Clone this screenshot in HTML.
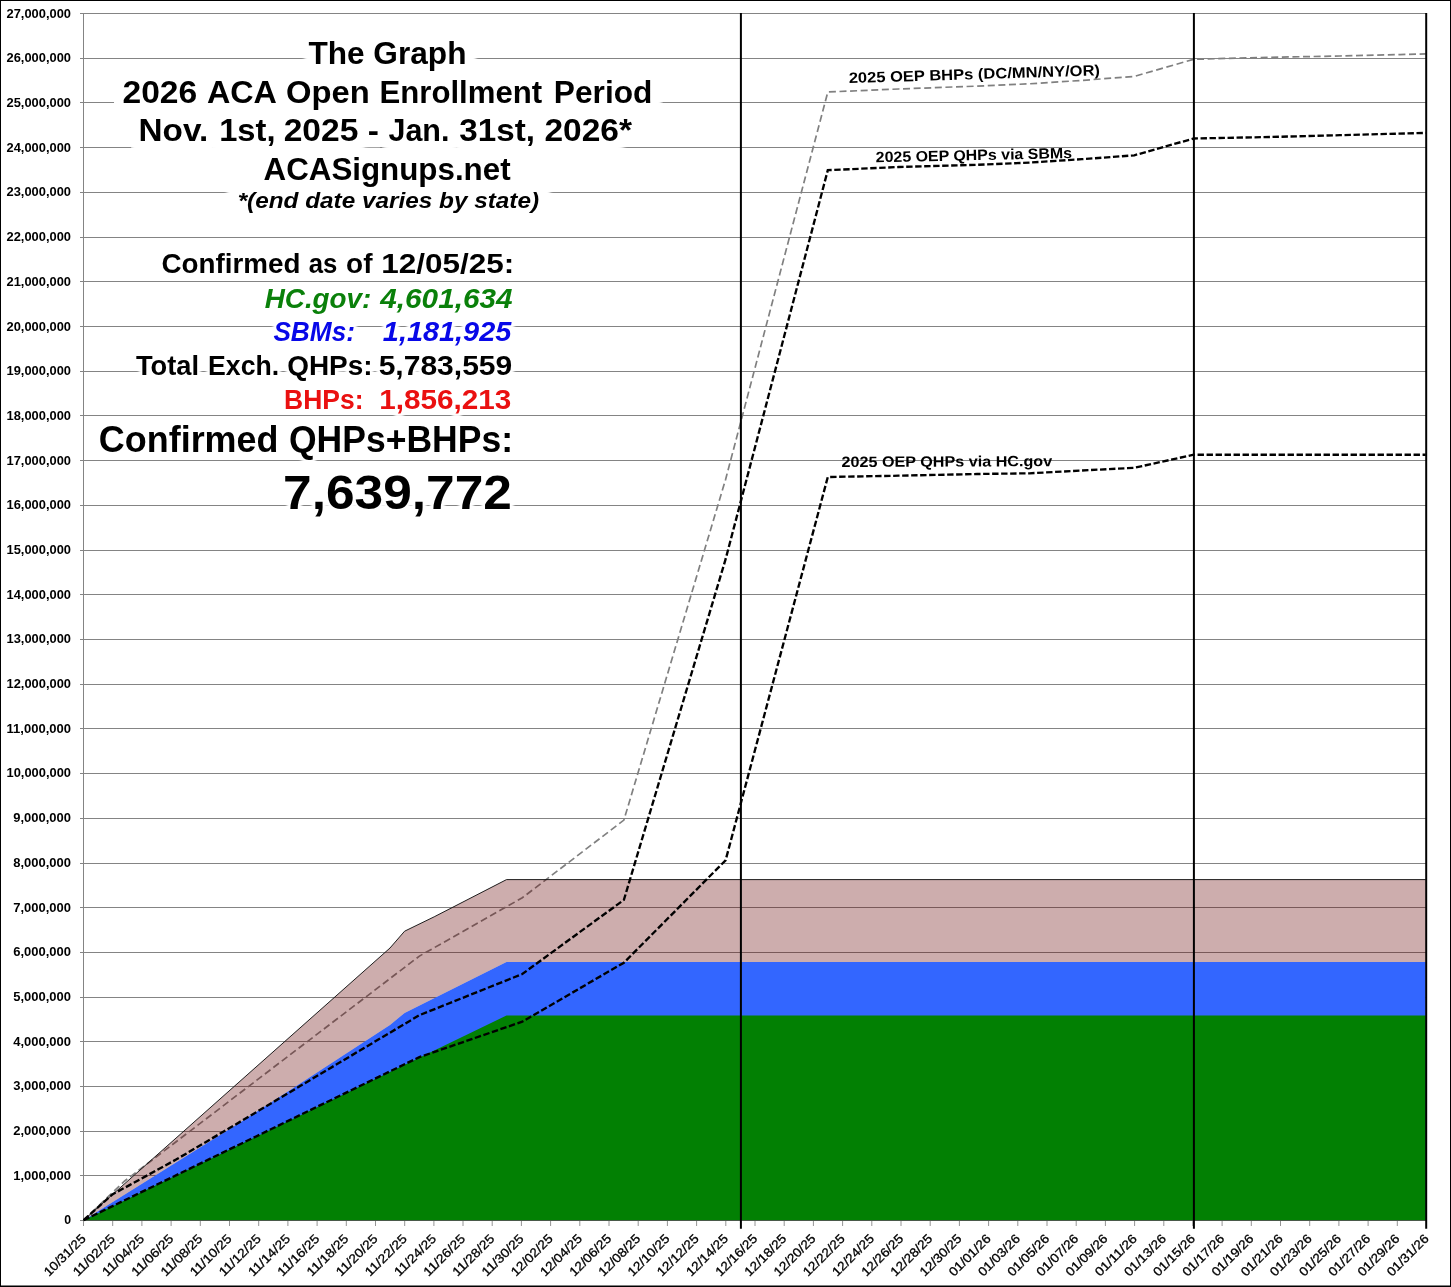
<!DOCTYPE html>
<html><head><meta charset="utf-8"><title>The Graph</title>
<style>
html,body{margin:0;padding:0;background:#fff;}
body{width:1451px;height:1287px;overflow:hidden;font-family:"Liberation Sans",sans-serif;}
svg{display:block;will-change:transform;font-family:"Liberation Sans",sans-serif;}
.yl{font-weight:bold;font-size:12.3px;fill:#000;text-anchor:end;}
.xl{font-size:12.6px;fill:#000;text-anchor:end;stroke:#000;stroke-width:0.3px;}
.t{font-weight:bold;}
.halo{stroke:#fff;stroke-linejoin:round;stroke-linecap:round;fill:#fff;}
</style></head><body>
<svg width="1451" height="1287" viewBox="0 0 1451 1287">
<defs><filter id="bl" x="-10%" y="-80%" width="120%" height="260%"><feGaussianBlur stdDeviation="1.6"/></filter>
<filter id="bs" x="-10%" y="-40%" width="120%" height="180%"><feGaussianBlur stdDeviation="0.9"/></filter></defs>
<rect x="0" y="0" width="1451" height="1287" fill="#fff"/>

<g stroke="#848484" stroke-width="1" shape-rendering="crispEdges">
<line x1="79.5" y1="1220.5" x2="1426" y2="1220.5"/>
<line x1="79.5" y1="1175.5" x2="1426" y2="1175.5"/>
<line x1="79.5" y1="1131.5" x2="1426" y2="1131.5"/>
<line x1="79.5" y1="1086.5" x2="1426" y2="1086.5"/>
<line x1="79.5" y1="1041.5" x2="1426" y2="1041.5"/>
<line x1="79.5" y1="997.5" x2="1426" y2="997.5"/>
<line x1="79.5" y1="952.5" x2="1426" y2="952.5"/>
<line x1="79.5" y1="907.5" x2="1426" y2="907.5"/>
<line x1="79.5" y1="863.5" x2="1426" y2="863.5"/>
<line x1="79.5" y1="818.5" x2="1426" y2="818.5"/>
<line x1="79.5" y1="773.5" x2="1426" y2="773.5"/>
<line x1="79.5" y1="728.5" x2="1426" y2="728.5"/>
<line x1="79.5" y1="684.5" x2="1426" y2="684.5"/>
<line x1="79.5" y1="639.5" x2="1426" y2="639.5"/>
<line x1="79.5" y1="594.5" x2="1426" y2="594.5"/>
<line x1="79.5" y1="550.5" x2="1426" y2="550.5"/>
<line x1="79.5" y1="505.5" x2="1426" y2="505.5"/>
<line x1="79.5" y1="460.5" x2="1426" y2="460.5"/>
<line x1="79.5" y1="415.5" x2="1426" y2="415.5"/>
<line x1="79.5" y1="371.5" x2="1426" y2="371.5"/>
<line x1="79.5" y1="326.5" x2="1426" y2="326.5"/>
<line x1="79.5" y1="281.5" x2="1426" y2="281.5"/>
<line x1="79.5" y1="237.5" x2="1426" y2="237.5"/>
<line x1="79.5" y1="192.5" x2="1426" y2="192.5"/>
<line x1="79.5" y1="147.5" x2="1426" y2="147.5"/>
<line x1="79.5" y1="102.5" x2="1426" y2="102.5"/>
<line x1="79.5" y1="58.5" x2="1426" y2="58.5"/>
<line x1="79.5" y1="13.5" x2="1426" y2="13.5"/>
<line x1="83.5" y1="13" x2="83.5" y2="1220.5"/>
</g>
<g stroke="#949494" stroke-width="1">
<line x1="83.5" y1="1220.5" x2="83.5" y2="1226"/>
<line x1="112.7" y1="1220.5" x2="112.7" y2="1226"/>
<line x1="141.9" y1="1220.5" x2="141.9" y2="1226"/>
<line x1="171.1" y1="1220.5" x2="171.1" y2="1226"/>
<line x1="200.3" y1="1220.5" x2="200.3" y2="1226"/>
<line x1="229.5" y1="1220.5" x2="229.5" y2="1226"/>
<line x1="258.7" y1="1220.5" x2="258.7" y2="1226"/>
<line x1="287.9" y1="1220.5" x2="287.9" y2="1226"/>
<line x1="317.1" y1="1220.5" x2="317.1" y2="1226"/>
<line x1="346.3" y1="1220.5" x2="346.3" y2="1226"/>
<line x1="375.5" y1="1220.5" x2="375.5" y2="1226"/>
<line x1="404.7" y1="1220.5" x2="404.7" y2="1226"/>
<line x1="433.9" y1="1220.5" x2="433.9" y2="1226"/>
<line x1="463.0" y1="1220.5" x2="463.0" y2="1226"/>
<line x1="492.2" y1="1220.5" x2="492.2" y2="1226"/>
<line x1="521.4" y1="1220.5" x2="521.4" y2="1226"/>
<line x1="550.6" y1="1220.5" x2="550.6" y2="1226"/>
<line x1="579.8" y1="1220.5" x2="579.8" y2="1226"/>
<line x1="609.0" y1="1220.5" x2="609.0" y2="1226"/>
<line x1="638.2" y1="1220.5" x2="638.2" y2="1226"/>
<line x1="667.4" y1="1220.5" x2="667.4" y2="1226"/>
<line x1="696.6" y1="1220.5" x2="696.6" y2="1226"/>
<line x1="725.8" y1="1220.5" x2="725.8" y2="1226"/>
<line x1="755.0" y1="1220.5" x2="755.0" y2="1226"/>
<line x1="784.2" y1="1220.5" x2="784.2" y2="1226"/>
<line x1="813.4" y1="1220.5" x2="813.4" y2="1226"/>
<line x1="842.6" y1="1220.5" x2="842.6" y2="1226"/>
<line x1="871.8" y1="1220.5" x2="871.8" y2="1226"/>
<line x1="901.0" y1="1220.5" x2="901.0" y2="1226"/>
<line x1="930.2" y1="1220.5" x2="930.2" y2="1226"/>
<line x1="959.4" y1="1220.5" x2="959.4" y2="1226"/>
<line x1="988.6" y1="1220.5" x2="988.6" y2="1226"/>
<line x1="1017.8" y1="1220.5" x2="1017.8" y2="1226"/>
<line x1="1047.0" y1="1220.5" x2="1047.0" y2="1226"/>
<line x1="1076.2" y1="1220.5" x2="1076.2" y2="1226"/>
<line x1="1105.4" y1="1220.5" x2="1105.4" y2="1226"/>
<line x1="1134.6" y1="1220.5" x2="1134.6" y2="1226"/>
<line x1="1163.8" y1="1220.5" x2="1163.8" y2="1226"/>
<line x1="1192.9" y1="1220.5" x2="1192.9" y2="1226"/>
<line x1="1222.1" y1="1220.5" x2="1222.1" y2="1226"/>
<line x1="1251.3" y1="1220.5" x2="1251.3" y2="1226"/>
<line x1="1280.5" y1="1220.5" x2="1280.5" y2="1226"/>
<line x1="1309.7" y1="1220.5" x2="1309.7" y2="1226"/>
<line x1="1338.9" y1="1220.5" x2="1338.9" y2="1226"/>
<line x1="1368.1" y1="1220.5" x2="1368.1" y2="1226"/>
<line x1="1397.3" y1="1220.5" x2="1397.3" y2="1226"/>
<line x1="1426.5" y1="1220.5" x2="1426.5" y2="1226"/>
</g>
<polygon points="83.6,1220.2 236.8,1124.6 390.0,1024.9 404.6,1012.9 506.5,962.1 1425.8,962.1 1425.8,1220.2" fill="#3366ff"/>
<polygon points="83.6,1220.2 506.5,1015.5 1425.8,1015.5 1425.8,1220.2" fill="#028003"/>
<polyline points="83.6,1220.2 124.4,1181.2 419.4,956.1 522.3,897.8 623.9,820.1 725.6,479.4 827.8,92.0 898.6,89.0 977.1,86.1 1029.5,83.8 1081.9,80.4 1134.3,76.4 1193.7,59.3 1270.0,57.3 1340.0,56.0 1400.0,54.6 1425.8,53.9" fill="none" stroke="#808080" stroke-width="1.7" stroke-dasharray="7,3.6"/>
<polygon points="83.6,1220.2 390.0,948.0 404.6,931.2 434.2,916.8 506.5,879.6 1425.8,879.6 1425.8,962.1 506.5,962.1 404.6,1012.9 390.0,1024.9 236.8,1124.6 83.6,1220.2" fill="rgba(100,0,0,0.32)"/>
<polyline points="83.6,1220.2 390.0,948.0 404.6,931.2 434.2,916.8 506.5,879.6 1425.8,879.6" fill="none" stroke="#141414" stroke-width="0.95"/>
<line x1="83.6" y1="1220.5" x2="1425.8" y2="1220.5" stroke="#4a5a4a" stroke-width="1"/>
<polyline points="83.6,1220.2 112.8,1194.1 130.0,1184.9 176.5,1159.3 230.0,1127.8 320.0,1074.2 419.4,1015.2 522.3,974.0 623.9,899.9 725.6,559.2 827.8,170.2 898.6,167.0 977.1,164.8 1029.5,162.6 1081.9,159.2 1134.3,155.3 1193.7,138.5 1270.0,137.0 1340.0,135.2 1425.8,132.9" fill="none" stroke="#000" stroke-width="2.35" stroke-dasharray="6.4,2.6"/>
<polyline points="83.6,1220.2 419.4,1057.1 522.3,1021.7 623.9,962.7 725.6,860.3 827.8,477.0 898.6,475.7 977.1,474.0 1029.5,473.3 1081.9,470.5 1134.3,467.8 1193.7,454.7 1425.8,454.7" fill="none" stroke="#000" stroke-width="2.35" stroke-dasharray="6.4,2.6"/>
<line x1="740.9" y1="13" x2="740.9" y2="1228.7" stroke="#000" stroke-width="2"/>
<line x1="1193.9" y1="13" x2="1193.9" y2="1228.7" stroke="#000" stroke-width="2"/>
<line x1="1426.2" y1="13" x2="1426.2" y2="1228.7" stroke="#000" stroke-width="2"/>
<text class="yl" x="71.0" y="1224.3">0</text>
<text class="yl" x="71.0" y="1179.6" textLength="57.8" lengthAdjust="spacingAndGlyphs">1,000,000</text>
<text class="yl" x="71.0" y="1134.9" textLength="57.8" lengthAdjust="spacingAndGlyphs">2,000,000</text>
<text class="yl" x="71.0" y="1090.2" textLength="57.8" lengthAdjust="spacingAndGlyphs">3,000,000</text>
<text class="yl" x="71.0" y="1045.5" textLength="57.8" lengthAdjust="spacingAndGlyphs">4,000,000</text>
<text class="yl" x="71.0" y="1000.9" textLength="57.8" lengthAdjust="spacingAndGlyphs">5,000,000</text>
<text class="yl" x="71.0" y="956.2" textLength="57.8" lengthAdjust="spacingAndGlyphs">6,000,000</text>
<text class="yl" x="71.0" y="911.5" textLength="57.8" lengthAdjust="spacingAndGlyphs">7,000,000</text>
<text class="yl" x="71.0" y="866.8" textLength="57.8" lengthAdjust="spacingAndGlyphs">8,000,000</text>
<text class="yl" x="71.0" y="822.1" textLength="57.8" lengthAdjust="spacingAndGlyphs">9,000,000</text>
<text class="yl" x="71.0" y="777.4" textLength="64.5" lengthAdjust="spacingAndGlyphs">10,000,000</text>
<text class="yl" x="71.0" y="732.7" textLength="64.5" lengthAdjust="spacingAndGlyphs">11,000,000</text>
<text class="yl" x="71.0" y="688.0" textLength="64.5" lengthAdjust="spacingAndGlyphs">12,000,000</text>
<text class="yl" x="71.0" y="643.3" textLength="64.5" lengthAdjust="spacingAndGlyphs">13,000,000</text>
<text class="yl" x="71.0" y="598.6" textLength="64.5" lengthAdjust="spacingAndGlyphs">14,000,000</text>
<text class="yl" x="71.0" y="554.0" textLength="64.5" lengthAdjust="spacingAndGlyphs">15,000,000</text>
<text class="yl" x="71.0" y="509.3" textLength="64.5" lengthAdjust="spacingAndGlyphs">16,000,000</text>
<text class="yl" x="71.0" y="464.6" textLength="64.5" lengthAdjust="spacingAndGlyphs">17,000,000</text>
<text class="yl" x="71.0" y="419.9" textLength="64.5" lengthAdjust="spacingAndGlyphs">18,000,000</text>
<text class="yl" x="71.0" y="375.2" textLength="64.5" lengthAdjust="spacingAndGlyphs">19,000,000</text>
<text class="yl" x="71.0" y="330.5" textLength="64.5" lengthAdjust="spacingAndGlyphs">20,000,000</text>
<text class="yl" x="71.0" y="285.8" textLength="64.5" lengthAdjust="spacingAndGlyphs">21,000,000</text>
<text class="yl" x="71.0" y="241.1" textLength="64.5" lengthAdjust="spacingAndGlyphs">22,000,000</text>
<text class="yl" x="71.0" y="196.4" textLength="64.5" lengthAdjust="spacingAndGlyphs">23,000,000</text>
<text class="yl" x="71.0" y="151.7" textLength="64.5" lengthAdjust="spacingAndGlyphs">24,000,000</text>
<text class="yl" x="71.0" y="107.1" textLength="64.5" lengthAdjust="spacingAndGlyphs">25,000,000</text>
<text class="yl" x="71.0" y="62.4" textLength="64.5" lengthAdjust="spacingAndGlyphs">26,000,000</text>
<text class="yl" x="71.0" y="17.7" textLength="64.5" lengthAdjust="spacingAndGlyphs">27,000,000</text>
<text class="xl" transform="translate(86.5,1239.5) rotate(-45)" textLength="53.2" lengthAdjust="spacingAndGlyphs">10/31/25</text>
<text class="xl" transform="translate(115.7,1239.5) rotate(-45)" textLength="53.2" lengthAdjust="spacingAndGlyphs">11/02/25</text>
<text class="xl" transform="translate(144.9,1239.5) rotate(-45)" textLength="53.2" lengthAdjust="spacingAndGlyphs">11/04/25</text>
<text class="xl" transform="translate(174.1,1239.5) rotate(-45)" textLength="53.2" lengthAdjust="spacingAndGlyphs">11/06/25</text>
<text class="xl" transform="translate(203.3,1239.5) rotate(-45)" textLength="53.2" lengthAdjust="spacingAndGlyphs">11/08/25</text>
<text class="xl" transform="translate(232.5,1239.5) rotate(-45)" textLength="53.2" lengthAdjust="spacingAndGlyphs">11/10/25</text>
<text class="xl" transform="translate(261.7,1239.5) rotate(-45)" textLength="53.2" lengthAdjust="spacingAndGlyphs">11/12/25</text>
<text class="xl" transform="translate(290.9,1239.5) rotate(-45)" textLength="53.2" lengthAdjust="spacingAndGlyphs">11/14/25</text>
<text class="xl" transform="translate(320.1,1239.5) rotate(-45)" textLength="53.2" lengthAdjust="spacingAndGlyphs">11/16/25</text>
<text class="xl" transform="translate(349.3,1239.5) rotate(-45)" textLength="53.2" lengthAdjust="spacingAndGlyphs">11/18/25</text>
<text class="xl" transform="translate(378.5,1239.5) rotate(-45)" textLength="53.2" lengthAdjust="spacingAndGlyphs">11/20/25</text>
<text class="xl" transform="translate(407.7,1239.5) rotate(-45)" textLength="53.2" lengthAdjust="spacingAndGlyphs">11/22/25</text>
<text class="xl" transform="translate(436.9,1239.5) rotate(-45)" textLength="53.2" lengthAdjust="spacingAndGlyphs">11/24/25</text>
<text class="xl" transform="translate(466.0,1239.5) rotate(-45)" textLength="53.2" lengthAdjust="spacingAndGlyphs">11/26/25</text>
<text class="xl" transform="translate(495.2,1239.5) rotate(-45)" textLength="53.2" lengthAdjust="spacingAndGlyphs">11/28/25</text>
<text class="xl" transform="translate(524.4,1239.5) rotate(-45)" textLength="53.2" lengthAdjust="spacingAndGlyphs">11/30/25</text>
<text class="xl" transform="translate(553.6,1239.5) rotate(-45)" textLength="53.2" lengthAdjust="spacingAndGlyphs">12/02/25</text>
<text class="xl" transform="translate(582.8,1239.5) rotate(-45)" textLength="53.2" lengthAdjust="spacingAndGlyphs">12/04/25</text>
<text class="xl" transform="translate(612.0,1239.5) rotate(-45)" textLength="53.2" lengthAdjust="spacingAndGlyphs">12/06/25</text>
<text class="xl" transform="translate(641.2,1239.5) rotate(-45)" textLength="53.2" lengthAdjust="spacingAndGlyphs">12/08/25</text>
<text class="xl" transform="translate(670.4,1239.5) rotate(-45)" textLength="53.2" lengthAdjust="spacingAndGlyphs">12/10/25</text>
<text class="xl" transform="translate(699.6,1239.5) rotate(-45)" textLength="53.2" lengthAdjust="spacingAndGlyphs">12/12/25</text>
<text class="xl" transform="translate(728.8,1239.5) rotate(-45)" textLength="53.2" lengthAdjust="spacingAndGlyphs">12/14/25</text>
<text class="xl" transform="translate(758.0,1239.5) rotate(-45)" textLength="53.2" lengthAdjust="spacingAndGlyphs">12/16/25</text>
<text class="xl" transform="translate(787.2,1239.5) rotate(-45)" textLength="53.2" lengthAdjust="spacingAndGlyphs">12/18/25</text>
<text class="xl" transform="translate(816.4,1239.5) rotate(-45)" textLength="53.2" lengthAdjust="spacingAndGlyphs">12/20/25</text>
<text class="xl" transform="translate(845.6,1239.5) rotate(-45)" textLength="53.2" lengthAdjust="spacingAndGlyphs">12/22/25</text>
<text class="xl" transform="translate(874.8,1239.5) rotate(-45)" textLength="53.2" lengthAdjust="spacingAndGlyphs">12/24/25</text>
<text class="xl" transform="translate(904.0,1239.5) rotate(-45)" textLength="53.2" lengthAdjust="spacingAndGlyphs">12/26/25</text>
<text class="xl" transform="translate(933.2,1239.5) rotate(-45)" textLength="53.2" lengthAdjust="spacingAndGlyphs">12/28/25</text>
<text class="xl" transform="translate(962.4,1239.5) rotate(-45)" textLength="53.2" lengthAdjust="spacingAndGlyphs">12/30/25</text>
<text class="xl" transform="translate(991.6,1239.5) rotate(-45)" textLength="53.2" lengthAdjust="spacingAndGlyphs">01/01/26</text>
<text class="xl" transform="translate(1020.8,1239.5) rotate(-45)" textLength="53.2" lengthAdjust="spacingAndGlyphs">01/03/26</text>
<text class="xl" transform="translate(1050.0,1239.5) rotate(-45)" textLength="53.2" lengthAdjust="spacingAndGlyphs">01/05/26</text>
<text class="xl" transform="translate(1079.2,1239.5) rotate(-45)" textLength="53.2" lengthAdjust="spacingAndGlyphs">01/07/26</text>
<text class="xl" transform="translate(1108.4,1239.5) rotate(-45)" textLength="53.2" lengthAdjust="spacingAndGlyphs">01/09/26</text>
<text class="xl" transform="translate(1137.6,1239.5) rotate(-45)" textLength="53.2" lengthAdjust="spacingAndGlyphs">01/11/26</text>
<text class="xl" transform="translate(1166.8,1239.5) rotate(-45)" textLength="53.2" lengthAdjust="spacingAndGlyphs">01/13/26</text>
<text class="xl" transform="translate(1195.9,1239.5) rotate(-45)" textLength="53.2" lengthAdjust="spacingAndGlyphs">01/15/26</text>
<text class="xl" transform="translate(1225.1,1239.5) rotate(-45)" textLength="53.2" lengthAdjust="spacingAndGlyphs">01/17/26</text>
<text class="xl" transform="translate(1254.3,1239.5) rotate(-45)" textLength="53.2" lengthAdjust="spacingAndGlyphs">01/19/26</text>
<text class="xl" transform="translate(1283.5,1239.5) rotate(-45)" textLength="53.2" lengthAdjust="spacingAndGlyphs">01/21/26</text>
<text class="xl" transform="translate(1312.7,1239.5) rotate(-45)" textLength="53.2" lengthAdjust="spacingAndGlyphs">01/23/26</text>
<text class="xl" transform="translate(1341.9,1239.5) rotate(-45)" textLength="53.2" lengthAdjust="spacingAndGlyphs">01/25/26</text>
<text class="xl" transform="translate(1371.1,1239.5) rotate(-45)" textLength="53.2" lengthAdjust="spacingAndGlyphs">01/27/26</text>
<text class="xl" transform="translate(1400.3,1239.5) rotate(-45)" textLength="53.2" lengthAdjust="spacingAndGlyphs">01/29/26</text>
<text class="xl" transform="translate(1429.5,1239.5) rotate(-45)" textLength="53.2" lengthAdjust="spacingAndGlyphs">01/31/26</text>
<text x="308.42" y="63.5" font-size="32.1" textLength="158.05" lengthAdjust="spacingAndGlyphs" class="t halo" stroke-width="23" filter="url(#bl)">The Graph</text>
<text x="122.46" y="102.8" font-size="32.1" textLength="74.75" lengthAdjust="spacingAndGlyphs" class="t halo" stroke-width="23" filter="url(#bl)">2026</text>
<text x="206.90" y="102.8" font-size="32.1" textLength="70.03" lengthAdjust="spacingAndGlyphs" class="t halo" stroke-width="23" filter="url(#bl)">ACA</text>
<text x="285.98" y="102.8" font-size="32.1" textLength="83.66" lengthAdjust="spacingAndGlyphs" class="t halo" stroke-width="23" filter="url(#bl)">Open</text>
<text x="379.47" y="102.8" font-size="32.1" textLength="162.69" lengthAdjust="spacingAndGlyphs" class="t halo" stroke-width="23" filter="url(#bl)">Enrollment</text>
<text x="553.83" y="102.8" font-size="32.1" textLength="98.55" lengthAdjust="spacingAndGlyphs" class="t halo" stroke-width="23" filter="url(#bl)">Period</text>
<text x="138.55" y="140.7" font-size="32.1" textLength="69.69" lengthAdjust="spacingAndGlyphs" class="t halo" stroke-width="23" filter="url(#bl)">Nov.</text>
<text x="219.20" y="140.7" font-size="32.1" textLength="56.28" lengthAdjust="spacingAndGlyphs" class="t halo" stroke-width="23" filter="url(#bl)">1st,</text>
<text x="283.65" y="140.7" font-size="32.1" textLength="74.72" lengthAdjust="spacingAndGlyphs" class="t halo" stroke-width="23" filter="url(#bl)">2025</text>
<text x="367.68" y="140.7" font-size="32.1" textLength="11.17" lengthAdjust="spacingAndGlyphs" class="t halo" stroke-width="23" filter="url(#bl)">-</text>
<text x="388.45" y="140.7" font-size="32.1" textLength="60.99" lengthAdjust="spacingAndGlyphs" class="t halo" stroke-width="23" filter="url(#bl)">Jan.</text>
<text x="459.36" y="140.7" font-size="32.1" textLength="75.66" lengthAdjust="spacingAndGlyphs" class="t halo" stroke-width="23" filter="url(#bl)">31st,</text>
<text x="544.41" y="140.7" font-size="32.1" textLength="87.54" lengthAdjust="spacingAndGlyphs" class="t halo" stroke-width="23" filter="url(#bl)">2026*</text>
<text x="263.56" y="180.0" font-size="32.1" textLength="247.04" lengthAdjust="spacingAndGlyphs" class="t halo" stroke-width="23" filter="url(#bl)">ACASignups.net</text>
<text x="237.66" y="207.5" font-size="21.5" font-style="italic" textLength="301.37" lengthAdjust="spacingAndGlyphs" class="t halo" stroke-width="23" filter="url(#bl)">*(end date varies by state)</text>
<text x="161.42" y="273.4" font-size="27.4" textLength="138.99" lengthAdjust="spacingAndGlyphs" class="t halo" stroke-width="7" filter="url(#bs)">Confirmed</text>
<text x="308.74" y="273.4" font-size="27.4" textLength="28.63" lengthAdjust="spacingAndGlyphs" class="t halo" stroke-width="7" filter="url(#bs)">as</text>
<text x="346.04" y="273.4" font-size="27.4" textLength="26.42" lengthAdjust="spacingAndGlyphs" class="t halo" stroke-width="7" filter="url(#bs)">of</text>
<text x="381.16" y="273.4" font-size="27.4" textLength="133.08" lengthAdjust="spacingAndGlyphs" class="t halo" stroke-width="7" filter="url(#bs)">12/05/25:</text>
<text x="264.70" y="307.5" font-size="27.4" font-style="italic" textLength="106.69" lengthAdjust="spacingAndGlyphs" class="t halo" stroke-width="7" filter="url(#bs)">HC.gov:</text>
<text x="380.32" y="307.5" font-size="27.4" font-style="italic" textLength="132.19" lengthAdjust="spacingAndGlyphs" class="t halo" stroke-width="7" filter="url(#bs)">4,601,634</text>
<text x="273.39" y="340.6" font-size="27.4" font-style="italic" textLength="81.61" lengthAdjust="spacingAndGlyphs" class="t halo" stroke-width="7" filter="url(#bs)">SBMs:</text>
<text x="382.83" y="340.6" font-size="27.4" font-style="italic" textLength="128.48" lengthAdjust="spacingAndGlyphs" class="t halo" stroke-width="7" filter="url(#bs)">1,181,925</text>
<text x="135.95" y="374.9" font-size="27.4" textLength="63.13" lengthAdjust="spacingAndGlyphs" class="t halo" stroke-width="7" filter="url(#bs)">Total</text>
<text x="208.07" y="374.9" font-size="27.4" textLength="71.07" lengthAdjust="spacingAndGlyphs" class="t halo" stroke-width="7" filter="url(#bs)">Exch.</text>
<text x="287.20" y="374.9" font-size="27.4" textLength="85.44" lengthAdjust="spacingAndGlyphs" class="t halo" stroke-width="7" filter="url(#bs)">QHPs:</text>
<text x="378.67" y="374.9" font-size="27.4" textLength="133.62" lengthAdjust="spacingAndGlyphs" class="t halo" stroke-width="7" filter="url(#bs)">5,783,559</text>
<text x="284.08" y="409.0" font-size="27.4" textLength="79.42" lengthAdjust="spacingAndGlyphs" class="t halo" stroke-width="7" filter="url(#bs)">BHPs:</text>
<text x="379.26" y="409.0" font-size="27.4" textLength="132.12" lengthAdjust="spacingAndGlyphs" class="t halo" stroke-width="7" filter="url(#bs)">1,856,213</text>
<text x="98.80" y="451.8" font-size="36.8" textLength="179.75" lengthAdjust="spacingAndGlyphs" class="t halo" stroke-width="7" filter="url(#bs)">Confirmed</text>
<text x="288.98" y="451.8" font-size="36.8" textLength="224.01" lengthAdjust="spacingAndGlyphs" class="t halo" stroke-width="7" filter="url(#bs)">QHPs+BHPs:</text>
<text x="283.12" y="508.7" font-size="47.4" textLength="228.83" lengthAdjust="spacingAndGlyphs" class="t halo" stroke-width="7" filter="url(#bs)">7,639,772</text>
<text x="308.42" y="63.5" font-size="32.1" textLength="158.05" lengthAdjust="spacingAndGlyphs" class="t" fill="#000">The Graph</text>
<text x="122.46" y="102.8" font-size="32.1" textLength="74.75" lengthAdjust="spacingAndGlyphs" class="t" fill="#000">2026</text>
<text x="206.90" y="102.8" font-size="32.1" textLength="70.03" lengthAdjust="spacingAndGlyphs" class="t" fill="#000">ACA</text>
<text x="285.98" y="102.8" font-size="32.1" textLength="83.66" lengthAdjust="spacingAndGlyphs" class="t" fill="#000">Open</text>
<text x="379.47" y="102.8" font-size="32.1" textLength="162.69" lengthAdjust="spacingAndGlyphs" class="t" fill="#000">Enrollment</text>
<text x="553.83" y="102.8" font-size="32.1" textLength="98.55" lengthAdjust="spacingAndGlyphs" class="t" fill="#000">Period</text>
<text x="138.55" y="140.7" font-size="32.1" textLength="69.69" lengthAdjust="spacingAndGlyphs" class="t" fill="#000">Nov.</text>
<text x="219.20" y="140.7" font-size="32.1" textLength="56.28" lengthAdjust="spacingAndGlyphs" class="t" fill="#000">1st,</text>
<text x="283.65" y="140.7" font-size="32.1" textLength="74.72" lengthAdjust="spacingAndGlyphs" class="t" fill="#000">2025</text>
<text x="367.68" y="140.7" font-size="32.1" textLength="11.17" lengthAdjust="spacingAndGlyphs" class="t" fill="#000">-</text>
<text x="388.45" y="140.7" font-size="32.1" textLength="60.99" lengthAdjust="spacingAndGlyphs" class="t" fill="#000">Jan.</text>
<text x="459.36" y="140.7" font-size="32.1" textLength="75.66" lengthAdjust="spacingAndGlyphs" class="t" fill="#000">31st,</text>
<text x="544.41" y="140.7" font-size="32.1" textLength="87.54" lengthAdjust="spacingAndGlyphs" class="t" fill="#000">2026*</text>
<text x="263.56" y="180.0" font-size="32.1" textLength="247.04" lengthAdjust="spacingAndGlyphs" class="t" fill="#000">ACASignups.net</text>
<text x="237.66" y="207.5" font-size="21.5" font-style="italic" textLength="301.37" lengthAdjust="spacingAndGlyphs" class="t" fill="#000">*(end date varies by state)</text>
<text x="161.42" y="273.4" font-size="27.4" textLength="138.99" lengthAdjust="spacingAndGlyphs" class="t" fill="#000">Confirmed</text>
<text x="308.74" y="273.4" font-size="27.4" textLength="28.63" lengthAdjust="spacingAndGlyphs" class="t" fill="#000">as</text>
<text x="346.04" y="273.4" font-size="27.4" textLength="26.42" lengthAdjust="spacingAndGlyphs" class="t" fill="#000">of</text>
<text x="381.16" y="273.4" font-size="27.4" textLength="133.08" lengthAdjust="spacingAndGlyphs" class="t" fill="#000">12/05/25:</text>
<text x="264.70" y="307.5" font-size="27.4" font-style="italic" textLength="106.69" lengthAdjust="spacingAndGlyphs" class="t" fill="#0a800a">HC.gov:</text>
<text x="380.32" y="307.5" font-size="27.4" font-style="italic" textLength="132.19" lengthAdjust="spacingAndGlyphs" class="t" fill="#0a800a">4,601,634</text>
<text x="273.39" y="340.6" font-size="27.4" font-style="italic" textLength="81.61" lengthAdjust="spacingAndGlyphs" class="t" fill="#0808e8">SBMs:</text>
<text x="382.83" y="340.6" font-size="27.4" font-style="italic" textLength="128.48" lengthAdjust="spacingAndGlyphs" class="t" fill="#0808e8">1,181,925</text>
<text x="135.95" y="374.9" font-size="27.4" textLength="63.13" lengthAdjust="spacingAndGlyphs" class="t" fill="#000">Total</text>
<text x="208.07" y="374.9" font-size="27.4" textLength="71.07" lengthAdjust="spacingAndGlyphs" class="t" fill="#000">Exch.</text>
<text x="287.20" y="374.9" font-size="27.4" textLength="85.44" lengthAdjust="spacingAndGlyphs" class="t" fill="#000">QHPs:</text>
<text x="378.67" y="374.9" font-size="27.4" textLength="133.62" lengthAdjust="spacingAndGlyphs" class="t" fill="#000">5,783,559</text>
<text x="284.08" y="409.0" font-size="27.4" textLength="79.42" lengthAdjust="spacingAndGlyphs" class="t" fill="#ea1010">BHPs:</text>
<text x="379.26" y="409.0" font-size="27.4" textLength="132.12" lengthAdjust="spacingAndGlyphs" class="t" fill="#ea1010">1,856,213</text>
<text x="98.80" y="451.8" font-size="36.8" textLength="179.75" lengthAdjust="spacingAndGlyphs" class="t" fill="#000">Confirmed</text>
<text x="288.98" y="451.8" font-size="36.8" textLength="224.01" lengthAdjust="spacingAndGlyphs" class="t" fill="#000">QHPs+BHPs:</text>
<text x="283.12" y="508.7" font-size="47.4" textLength="228.83" lengthAdjust="spacingAndGlyphs" class="t" fill="#000">7,639,772</text>
<text font-size="15" transform="translate(848.9,83.1) rotate(-1.80)" textLength="251.3" lengthAdjust="spacingAndGlyphs" class="t" fill="#000">2025 OEP BHPs (DC/MN/NY/OR)</text>
<text font-size="15" transform="translate(875.8,162.3) rotate(-1.23)" textLength="196.4" lengthAdjust="spacingAndGlyphs" class="t" fill="#000">2025 OEP QHPs via SBMs</text>
<text font-size="15" transform="translate(841.5,467.0) rotate(-0.22)" textLength="210.7" lengthAdjust="spacingAndGlyphs" class="t" fill="#000">2025 OEP QHPs via HC.gov</text>
<rect x="0.5" y="0.5" width="1450" height="1286" fill="none" stroke="#000" stroke-width="1"/>
<rect x="0" y="1285.5" width="1451" height="1.5" fill="#000"/>
</svg></body></html>
